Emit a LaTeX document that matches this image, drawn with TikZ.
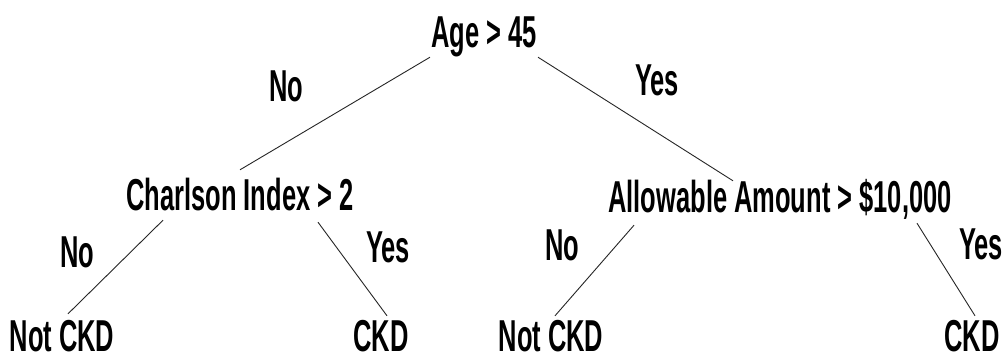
\documentclass[tikz,border=0pt]{standalone}
\usepackage{fontspec}
\newfontfamily\treefont[FakeStretch=0.57]{Liberation Sans Bold}
\usetikzlibrary{calc}

\begin{document}
\begin{tikzpicture}[x=1pt,y=-1pt,
    every node/.style={font=\fontsize{44.7}{50}\selectfont\treefont,inner sep=0pt,anchor=base,text height=32pt,text depth=0pt},
    branch/.style={draw=black!85,line width=0.9pt}]
\useasboundingbox[fill=white] (0,0) rectangle (1003,360);

% questions
\node (age)      at (484,47)  {Age > 45};
\node (charlson) at (240,210) {Charlson Index > 2};
\node (allow)    at (780,212) {Allowable Amount > \$10,000};
% leaves
\node (notckdA)  at (62,351)  {Not CKD};
\node (ckdA)     at (381,351) {CKD};
\node (notckdB)  at (551,351) {Not CKD};
\node (ckdB)     at (972,351) {CKD};
% answers
\node (noA)  at (286,101) {No};
\node (yesA) at (657,95)  {Yes};
\node (noB)  at (77,267)  {No};
\node (yesB) at (388,262) {Yes};
\node (noC)  at (562,260) {No};
\node (yesC) at (981,259) {Yes};

\path[branch]
($(age.south)+(-54,10)$)      edge ($(charlson.north)+(0,-8)$)
($(age.south)+(54,10)$)       edge ($(allow.north)+(-47,1)$)
($(charlson.south)+(-77,10)$) edge ($(notckdA.north)+(6,-5)$)
($(charlson.south)+(78,12)$)  edge ($(ckdA.north)+(6,-3)$)
($(allow.south)+(-146,13)$)   edge ($(notckdB.north)+(4,-3)$)
($(allow.south)+(137,11)$)    edge ($(ckdB.north)+(3,-3)$);
\end{tikzpicture}
\end{document}
